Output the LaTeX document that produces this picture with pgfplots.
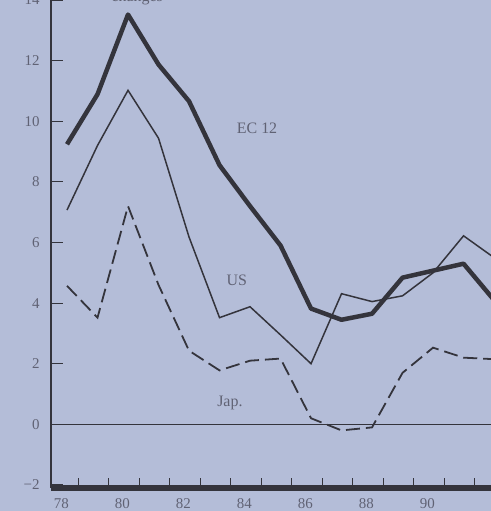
\documentclass[border=0pt]{standalone}
\usepackage{fontspec}
\setmainfont{Liberation Serif}
\usepackage{pgfplots}
\pgfplotsset{compat=1.18}
\definecolor{bg}{RGB}{180,189,216}
\definecolor{ink}{RGB}{52,52,60}
\definecolor{txt}{RGB}{96,98,116}

\begin{document}
\begin{tikzpicture}
\fill[bg] (-51bp,-23bp) rectangle (440bp,488bp);
\begin{axis}[
  at={(0,0)}, anchor=south west,
  scale only axis, width=440bp, height=488bp,
  xmin=77.475, xmax=91.9, ymin=-2.1, ymax=14,
  axis lines=left, axis line style={-, ink},
  x axis line style={line width=5.5bp},
  y axis line style={line width=2.5bp},
  tick align=inside,
  major tick length=12bp,
  tick style={ink, line width=1.2bp},
  xtick={78.37,79.37,...,91.37},
  xticklabels={78,{},80,{},82,{},84,{},86,{},88,{},90,{},92},
  x tick style={/pgfplots/major tick length=10bp},
  xticklabel style={xshift=-17bp, yshift=-7bp, txt, font=\fontsize{15}{17}\selectfont},
  ytick={-2,0,2,4,6,8,10,12,14},
  yticklabels={−2,0,2,4,6,8,10,12,14},
  yticklabel style={xshift=-8bp, txt, font=\fontsize{15}{17}\selectfont},
]
% EC 12
\addplot[ink, line width=4.5bp, line join=round] coordinates {
  (78,9.24) (79,10.89) (80,13.52) (81,11.87) (82,10.66) (83,8.55) (84,7.2)
  (85,5.9) (86,3.82) (87,3.45) (88,3.65) (89,4.84) (90,5.07) (91,5.3) (92,4.1)
};
% US
\addplot[ink, line width=1.5bp] coordinates {
  (78,7.07) (79,9.2) (80,11.02) (81,9.44) (82,6.18) (83,3.52) (84,3.88)
  (85,2.95) (86,2.0) (87,4.31) (88,4.05) (89,4.24) (90,5.0) (91,6.22) (92,5.5)
};
% Japan
\addplot[ink, line width=1.8bp, dash pattern=on 14bp off 6bp] coordinates {
  (78,4.57) (79,3.52) (80,7.2) (81,4.6) (82,2.43) (83,1.78) (84,2.1)
  (85,2.17) (86,0.2) (87,-0.2) (88,-0.1) (89,1.7) (90,2.53) (91,2.2) (92,2.15)
};
% zero line
\addplot[ink, line width=1.3bp] coordinates {(77.475,0) (92,0)};

\node[txt, font=\fontsize{16}{18}\selectfont] at (axis cs:84.23,9.77) {EC 12};
\node[txt, font=\fontsize{16}{18}\selectfont] at (axis cs:83.57,4.74) {US};
\node[txt, font=\fontsize{16}{18}\selectfont] at (axis cs:83.34,0.72) {Jap.};
\node[txt, anchor=base, font=\fontsize{16}{18}\selectfont] at (axis cs:80.3,13.96) {changes};
\end{axis}
\pgfresetboundingbox
\path[use as bounding box] (-51bp,-23bp) rectangle (440bp,488bp);
\end{tikzpicture}
\end{document}
